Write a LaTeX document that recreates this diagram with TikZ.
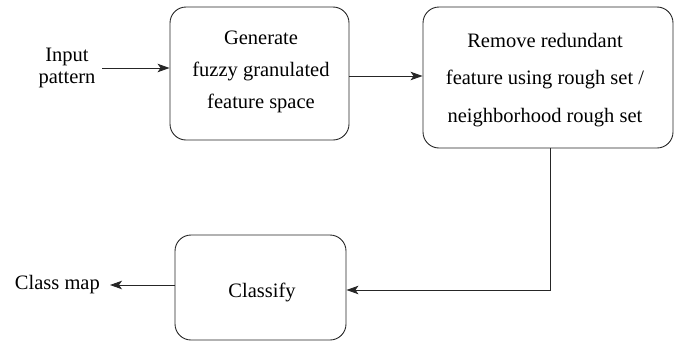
\documentclass[tikz,border=0pt]{standalone}
\usepackage{fontspec}
\setmainfont{Liberation Serif}
\usetikzlibrary{arrows.meta}
\begin{document}
\begin{tikzpicture}[x=1pt,y=-1pt,
  stepbox/.style={draw=black!85, line width=0.9pt, rounded corners=16pt, inner sep=0pt},
  lbl/.style={font=\fontsize{20.5}{22}\selectfont, align=center, inner sep=0pt},
  flow/.style={draw=black!85, line width=0.9pt, -{Stealth[length=12pt,width=8.5pt,inset=3pt]}}]
  \useasboundingbox (0,0) rectangle (679,343);
  % process boxes
  \node[stepbox, minimum width=179pt, minimum height=133pt] (gen) at (259.5,73.5) {};
  \node[stepbox, minimum width=250pt, minimum height=141pt] (rem) at (548,77.5) {};
  \node[stepbox, minimum width=171pt, minimum height=105pt] (cls) at (260.5,287.5) {};
  % box texts
  \node[lbl, font=\fontsize{20.5}{32}\selectfont] at (261,72) {Generate\\fuzzy granulated\\feature space};
  \node[lbl, font=\fontsize{20.5}{37.5}\selectfont] at (545,80) {Remove redundant\\feature using rough set /\\neighborhood rough set};
  \node[lbl] at (262,292) {Classify};
  % inputs and outputs
  \node[lbl] (inp) at (67,68) {Input\\pattern};
  \node[lbl, anchor=east] (out) at (100,285) {Class map};
  \coordinate (intail) at (102,68);
  \coordinate (outtip) at (110,285);
  \coordinate (corner) at (550,290);
  % connectors
  \draw[flow] (intail) -- (gen.west |- intail);
  \draw[flow] (gen.east |- 0,76) -- (rem.west |- 0,76);
  \draw[flow] (rem.south -| corner) -- (corner) -- (cls.east |- corner);
  \draw[flow] (cls.west |- outtip) -- (outtip);
\end{tikzpicture}
\end{document}
